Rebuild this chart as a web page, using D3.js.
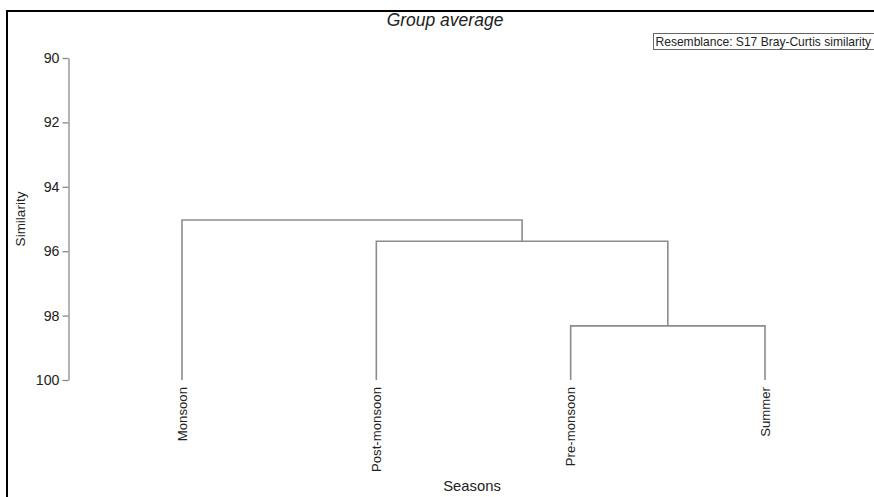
<!DOCTYPE html>
<html>
<head>
<meta charset="utf-8">
<script src="https://cdn.jsdelivr.net/npm/d3@7"></script>
<style>
  html, body { margin: 0; padding: 0; background: #fff; }
  svg { display: block; }
  text { font-family: "Liberation Sans", Arial, sans-serif; fill: #222; }
</style>
</head>
<body>
<svg id="chart" width="874" height="497"></svg>
<script>
// Dendrogram of seasons, group-average linkage on Bray-Curtis similarity
const leaves = ["Monsoon", "Post-monsoon", "Pre-monsoon", "Summer"];
// Each join merges two members (leaf names or earlier joins "J0", "J1", ...)
const joinLeft = ["Pre-monsoon", "Post-monsoon", "Monsoon"];
const joinRight = ["Summer", "J0", "J1"];
const joinSimilarity = [98.32, 95.69, 95.03];
const yTicks = [90, 92, 94, 96, 98, 100];

const svg = d3.select("#chart");
const W = 874, H = 497;

const y = d3.scaleLinear().domain([90, 100]).range([58, 380]);
const x = d3.scalePoint().domain(leaves).range([182, 765]);

// Frame (left and top edges)
svg.append("path")
  .attr("d", `M7,${H} L7,11 L${W},11`)
  .attr("fill", "none").attr("stroke", "#000").attr("stroke-width", 2);

// Title
svg.append("text")
  .attr("x", 445).attr("y", 26)
  .attr("text-anchor", "middle")
  .attr("font-style", "italic")
  .attr("font-size", 17.5)
  .text("Group average");

// Resemblance note box
const note = svg.append("g").attr("transform", "translate(653,33)");
note.append("rect")
  .attr("x", 0.5).attr("y", 0.5).attr("width", 240).attr("height", 16)
  .attr("fill", "#fff").attr("stroke", "#666").attr("stroke-width", 1);
note.append("text")
  .attr("x", 2.5).attr("y", 12.5)
  .attr("font-size", 12.05)
  .text("Resemblance: S17 Bray-Curtis similarity");

// Y axis
const yAxis = d3.axisLeft(y).tickValues(yTicks).tickSize(6).tickSizeOuter(0).tickPadding(3);
const gy = svg.append("g").attr("transform", "translate(68.5,0)").call(yAxis);
gy.select(".domain").attr("stroke", "#8a8a8a").attr("stroke-width", 1.3);
gy.selectAll(".tick line").attr("stroke", "#8a8a8a").attr("stroke-width", 1.3);
gy.selectAll(".tick text")
  .attr("font-size", 14.2)
  .attr("font-family", "Liberation Sans, Arial, sans-serif")
  .attr("fill", "#333");

// Axis titles
svg.append("text")
  .attr("transform", `translate(25,${(y(90) + y(100)) / 2}) rotate(-90)`)
  .attr("text-anchor", "middle")
  .attr("font-size", 13.5)
  .text("Similarity");

svg.append("text")
  .attr("x", 472).attr("y", 491)
  .attr("text-anchor", "middle")
  .attr("font-size", 14.8)
  .text("Seasons");

// Build node positions: leaves at similarity 100, joins at their level
const nodes = {};
leaves.forEach(name => { nodes[name] = { x: x(name), sim: 100 }; });
joinSimilarity.forEach((s, i) => {
  const a = nodes[joinLeft[i]], b = nodes[joinRight[i]];
  nodes["J" + i] = { x: (a.x + b.x) / 2, sim: s, a, b };
});

const links = svg.append("g")
  .attr("fill", "none")
  .attr("stroke", "#8c8c8c")
  .attr("stroke-width", 1.6);

joinSimilarity.forEach((s, i) => {
  const n = nodes["J" + i];
  const path = d3.path();
  path.moveTo(n.a.x, y(n.a.sim));
  path.lineTo(n.a.x, y(s));
  path.lineTo(n.b.x, y(s));
  path.lineTo(n.b.x, y(n.b.sim));
  links.append("path").attr("d", path.toString());
});

// Leaf labels, rotated, hanging below the leaf ends
svg.append("g").selectAll("text")
  .data(leaves)
  .join("text")
  .attr("transform", d => `translate(${x(d) + 4.5},${y(100) + 7}) rotate(-90)`)
  .attr("text-anchor", "end")
  .attr("font-size", 13.2)
  .text(d => d);
</script>
</body>
</html>
